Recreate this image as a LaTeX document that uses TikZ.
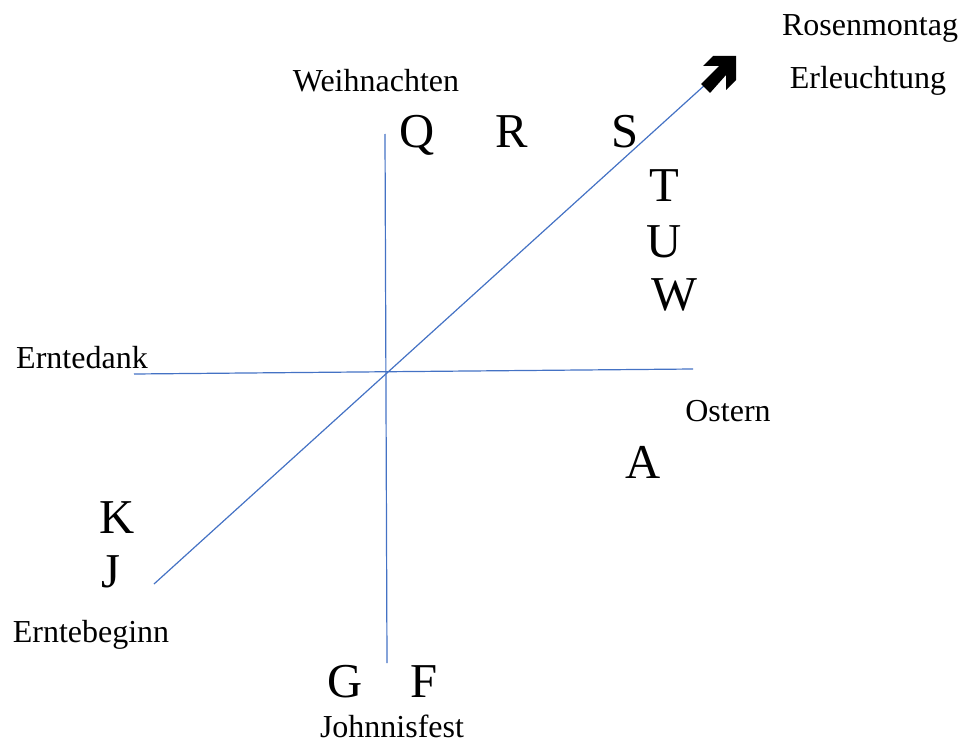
\documentclass[tikz,border=0pt]{standalone}
\usepackage{fontspec}
\setmainfont{Liberation Serif}
\definecolor{axisblue}{HTML}{4472C4}
\begin{document}
\begin{tikzpicture}[x=0.75pt,y=-0.75pt,
  small/.style={font=\fontsize{24pt}{28pt}\selectfont,anchor=base,inner sep=0pt},
  big/.style={font=\fontsize{36.5pt}{40pt}\selectfont,anchor=base,inner sep=0pt},
  axis/.style={draw=axisblue,line width=0.9pt}]
\useasboundingbox (0,0) rectangle (961,742);

% axis end points
\coordinate (vtop) at (385,134);
\coordinate (vbot) at (387,663);
\coordinate (hleft) at (134,374);
\coordinate (hright) at (693,369);
\coordinate (dlow) at (154,584);
\coordinate (dhigh) at (706,84);

% axes
\draw[axis] (vtop) -- (vbot);
\draw[axis] (hleft) -- (hright);
\draw[axis] (dlow) -- (dhigh);

% bold arrow head at the upper end of the diagonal
\fill[black] (736,56) -- (713,56) -- (703,66) -- (719,66) -- (701,84)
  -- (710,93) -- (726,75) -- (726,90) -- (736,80) -- cycle;

% labels
\node[small] (weih) at (376,92) {Weihnachten};
\node[small] (rosen) at (870,36) {Rosenmontag};
\node[small] (erl) at (868,89) {Erleuchtung};
\node[small] (dank) at (82,368) {Erntedank};
\node[small] (ostern) at (728,421) {Ostern};
\node[small] (beginn) at (91,642) {Erntebeginn};
\node[small] (johannis) at (392,737) {Johnnisfest};

% letters
\node[big] (Q) at (417,147) {Q};
\node[big] (R) at (512,147) {R};
\node[big] (S) at (625,147) {S};
\node[big] (T) at (664,201) {T};
\node[big] (U) at (664,257) {U};
\node[big] (W) at (674,310) {W};
\node[big] (A) at (643,478) {A};
\node[big] (K) at (117,533) {K};
\node[big] (J) at (111,587) {J};
\node[big] (G) at (345,697) {G};
\node[big] (F) at (424,697) {F};
\end{tikzpicture}
\end{document}
